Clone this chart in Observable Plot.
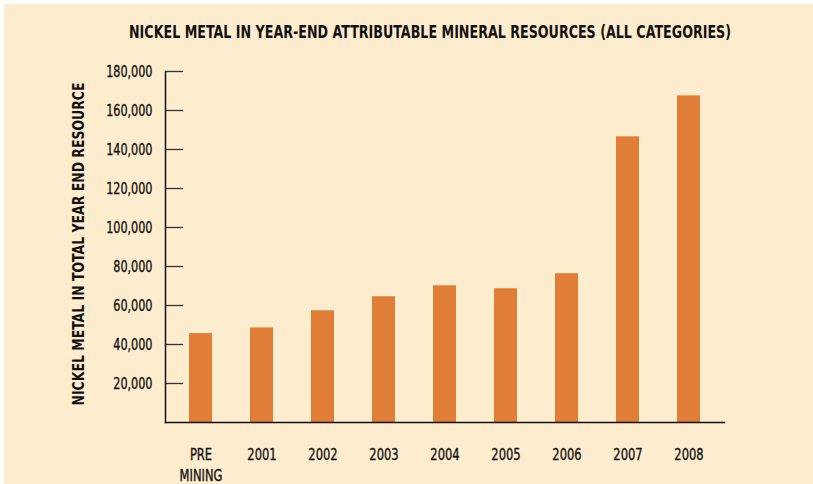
<!DOCTYPE html>
<html>
<head>
<meta charset="utf-8">
<script src="https://cdn.jsdelivr.net/npm/d3@7"></script>
<script src="https://cdn.jsdelivr.net/npm/@observablehq/plot@0.6"></script>
<style>
  html, body { margin: 0; padding: 0; background: #ffffff; }
  #wrap {
    position: absolute; left: 4px; top: 4px; width: 809px; height: 480px;
    background: #fdeccd; overflow: hidden;
    font-family: "DejaVu Sans Condensed", "Liberation Sans", sans-serif;
  }
  #title {
    position: absolute; left: 426px; top: 20px; white-space: nowrap;
    font-weight: bold; font-size: 17px; line-height: 1; color: #111;
    transform-origin: center center;
  }
  #ylabel {
    position: absolute; left: 74.5px; top: 239.5px; white-space: nowrap;
    font-weight: bold; font-size: 15px; line-height: 1; color: #111;
    transform-origin: center center;
  }
  #chart { position: absolute; left: 0; top: 46px; }
  #chart svg { overflow: visible; }
</style>
</head>
<body>
<div id="wrap">
  <div id="title">NICKEL METAL IN YEAR-END ATTRIBUTABLE MINERAL RESOURCES (ALL CATEGORIES)</div>
  <div id="ylabel"></div>
  <div id="chart"></div>
</div>
<script>
const categories = ["PRE\nMINING", "2001", "2002", "2003", "2004", "2005", "2006", "2007", "2008"];
const values = [45600, 48500, 57300, 64500, 70100, 68600, 76300, 146500, 167500];
const yTicks = [20000, 40000, 60000, 80000, 100000, 120000, 140000, 160000, 180000];
const yLabel = "NICKEL METAL IN TOTAL YEAR END RESOURCE";

const data = categories.map((c, i) => ({category: c, value: values[i]}));
const fmt = d3.format(",");

const chart = Plot.plot({
  width: 809,
  height: 430,
  marginLeft: 161,
  marginRight: 89,
  marginTop: 21,
  marginBottom: 58,
  style: {
    background: "transparent",
    fontFamily: "'DejaVu Sans Condensed', sans-serif",
    fontSize: "16px",
    color: "#111"
  },
  x: {domain: categories, paddingInner: 0.628, paddingOuter: 0.34, label: null},
  y: {domain: [0, 180000], label: null},
  marks: [
    Plot.barY(data, {x: "category", y: "value", fill: "#e07e38"}),
    Plot.axisY({ticks: yTicks, tickSize: -18, tickPadding: 31, tickFormat: fmt, stroke: "#333", strokeWidth: 1.3,
                fill: "#111", textStroke: "#111", textStrokeWidth: 0.35, label: null}),
    Plot.axisX({tickSize: 0, tickPadding: 22, lineHeight: 1.35, fill: "#111", textStroke: "#111", textStrokeWidth: 0.35, label: null}),
    Plot.frame({anchor: "left", stroke: "#111", strokeWidth: 1.5}),
    Plot.frame({anchor: "bottom", stroke: "#111", strokeWidth: 1.5})
  ]
});
document.getElementById("chart").appendChild(chart);

// condense tick labels (around their anchor point) to mimic the narrow typeface
function condense(sel, k) {
  chart.querySelectorAll(sel).forEach(t => {
    const tr = t.getAttribute("transform");
    if (tr) {
      t.setAttribute("transform", `${tr} scale(${k},1)`);
    } else {
      const x = +(t.getAttribute("x") || 0), y = +(t.getAttribute("y") || 0);
      t.removeAttribute("x"); t.removeAttribute("y");
      t.setAttribute("transform", `translate(${x},${y}) scale(${k},1)`);
    }
  });
}
condense('g[aria-label="y-axis tick label"] text', 0.78);
condense('g[aria-label="x-axis tick label"] text', 0.8);

// title: condensed to reference width
const title = document.getElementById("title");
const tw = title.getBoundingClientRect().width;
title.style.transform = `translateX(-50%) scaleX(${602 / tw})`;

// y label: rotated, condensed to reference length
const yl = document.getElementById("ylabel");
yl.textContent = yLabel;
const yw = yl.getBoundingClientRect().width;
yl.style.transform = `translate(-50%, -50%) rotate(-90deg) scaleX(${323 / yw})`;
</script>
</body>
</html>
